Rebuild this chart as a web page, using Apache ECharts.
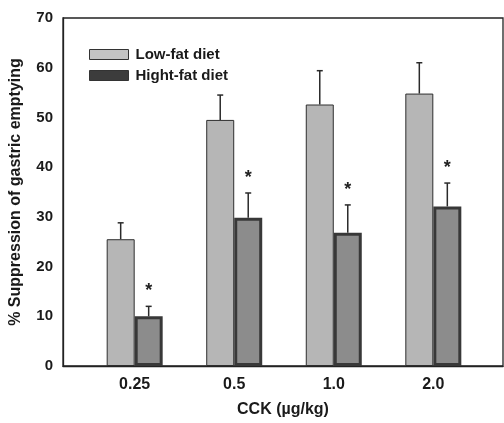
<!DOCTYPE html>
<html>
<head>
<meta charset="utf-8">
<script src="https://cdn.jsdelivr.net/npm/echarts@6/dist/echarts.min.js"></script>
<style>
  html, body { margin: 0; padding: 0; background: #fff; }
  #chart { width: 504px; height: 423px; }
</style>
</head>
<body>
<div id="chart"></div>
<script>
// CCK doses and gastric-emptying suppression (%) for the two diets
const doses = ['0.25', '0.5', '1.0', '2.0'];
const lowFat = [25.5, 49.5, 52.6, 54.8];
const lowFatErr = [3.3, 5.0, 6.8, 6.2];
const highFat = [10.0, 29.8, 26.8, 32.1];
const highFatErr = [2.0, 5.0, 5.6, 4.7];
const significant = [true, true, true, true];
const yTicks = [0, 10, 20, 30, 40, 50, 60, 70];

const FONT = '"Liberation Sans", Arial, sans-serif';
const BAR_W = 28;

const chart = echarts.init(document.getElementById('chart'));

// error bar whiskers (+SEM) and significance stars, drawn on top of the bars
function errorSeries(values, errs, offset, stars) {
  return {
    type: 'custom',
    z: 5,
    silent: true,
    data: values.map((v, i) => [i, v, v + errs[i], stars && stars[i] ? 1 : 0]),
    renderItem: function (params, api) {
      const base = api.coord([api.value(0), api.value(1)]);
      const top = api.coord([api.value(0), api.value(2)]);
      const x = base[0] + offset;
      const children = [
        { type: 'line', shape: { x1: x, y1: base[1], x2: x, y2: top[1] },
          style: { stroke: '#2a2a2a', lineWidth: 1.5 } },
        { type: 'line', shape: { x1: x - 3, y1: top[1], x2: x + 3, y2: top[1] },
          style: { stroke: '#2a2a2a', lineWidth: 1.5 } }
      ];
      if (api.value(3)) {
        children.push({ type: 'text', x: x, y: top[1] - 15,
          style: { text: '*', font: 'bold 18px ' + FONT, fill: '#222',
                   align: 'center', verticalAlign: 'middle' } });
      }
      return { type: 'group', children: children };
    }
  };
}

chart.setOption({
  animation: false,
  backgroundColor: '#fff',
  textStyle: { fontFamily: FONT },
  grid: { left: 63, right: 1, top: 18, bottom: 57, show: true,
          outerBoundsMode: 'none', containLabel: false,
          borderColor: '#222', borderWidth: 1.3 },
  legend: {
    orient: 'vertical', left: 84, top: 42, icon: 'rect',
    itemWidth: 39, itemHeight: 10, itemGap: 6,
    textStyle: { fontFamily: FONT, fontSize: 15, fontWeight: 'bold', color: '#1a1a1a', padding: [0, 0, 0, 2] },
    data: [
      { name: 'Low-fat diet', itemStyle: { color: '#c4c4c4', borderColor: '#333', borderWidth: 1 } },
      { name: 'Hight-fat diet', itemStyle: { color: '#3c3c3c', borderColor: '#333', borderWidth: 1 } }
    ]
  },
  xAxis: {
    type: 'value', min: -0.72, max: 3.7, interval: 1,
    name: 'CCK (µg/kg)', nameLocation: 'middle', nameGap: 36,
    nameTextStyle: { fontFamily: FONT, fontSize: 16, fontWeight: 'bold', color: '#1a1a1a' },
    axisLine: { show: true, onZero: false, lineStyle: { color: '#222', width: 1.3 } },
    axisTick: { show: false },
    splitLine: { show: false },
    axisLabel: {
      fontFamily: FONT, fontSize: 16, fontWeight: 'bold', color: '#1a1a1a', margin: 11,
      customValues: [0, 1, 2, 3],
      formatter: v => doses[Math.round(v)]
    }
  },
  yAxis: {
    type: 'value', min: 0, max: 70, interval: 10,
    name: '% Suppression of gastric emptying', nameLocation: 'middle', nameGap: 39,
    nameTextStyle: { fontFamily: FONT, fontSize: 16, fontWeight: 'bold', color: '#1a1a1a' },
    axisLine: { show: true, onZero: false, lineStyle: { color: '#222', width: 1.3 } },
    axisTick: { show: false },
    splitLine: { show: false },
    axisLabel: {
      fontFamily: FONT, fontSize: 15, fontWeight: 'bold', color: '#1a1a1a', margin: 10,
      formatter: v => yTicks.includes(v) ? String(v) : ''
    }
  },
  series: [
    {
      name: 'Low-fat diet', type: 'bar', barWidth: BAR_W, barGap: '0%',
      data: lowFat.map((v, i) => [i, v]),
      itemStyle: { color: '#b6b6b6', borderColor: '#2e2e2e', borderWidth: 1 }
    },
    {
      name: 'Hight-fat diet', type: 'bar', barWidth: BAR_W, barGap: '0%',
      data: highFat.map((v, i) => [i, v]),
      itemStyle: { color: '#8c8c8c', borderColor: '#383838', borderWidth: 3 }
    },
    errorSeries(lowFat, lowFatErr, -BAR_W / 2, null),
    errorSeries(highFat, highFatErr, BAR_W / 2, significant)
  ]
});
</script>
</body>
</html>
